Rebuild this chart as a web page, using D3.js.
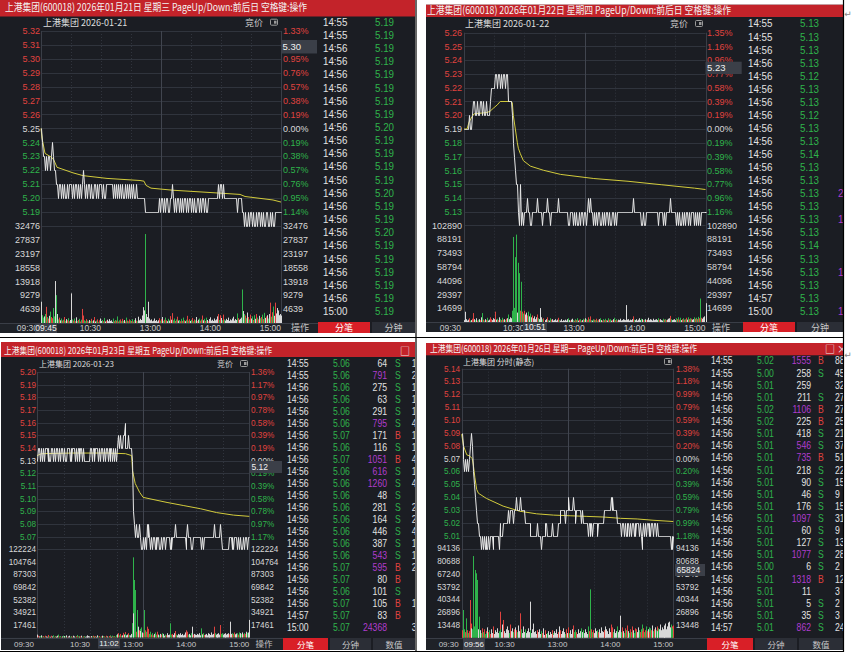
<!DOCTYPE html>
<html>
<head>
<meta charset="utf-8">
<script src="https://d3js.org/d3.v7.min.js"></script>
<style>
body{margin:0;background:#fff;}
svg{display:block;font-family:'Liberation Sans','Noto Sans CJK SC',sans-serif;}
.cjk{font-family:'Noto Sans CJK SC','Noto Sans',sans-serif;}
</style>
</head>
<body>
<div id="chart"></div>
<script>
// ---------- shared ----------
var timeLabels = ["09:30","10:30","13:00","14:00","15:00"];
var timeMinutes = [0,60,120,180,240];

// ---------- 2026-01-21 ----------
var p1Title = "上港集团(600018) 2026年01月21日 星期三 PageUp/Down:前后日 空格键:操作";
var p1Header = "上港集团  2026-01-21";
var p1PrevClose = 5.25;
var p1Range = [5.18, 5.32];
var p1PriceTicks = ["5.32","5.31","5.30","5.29","5.28","5.27","5.26","5.25","5.24","5.23","5.22","5.21","5.20","5.19"];
var p1PctTicks = ["1.33%","1.14%","0.95%","0.76%","0.57%","0.38%","0.19%","0.00%","0.19%","0.38%","0.57%","0.76%","0.95%","1.14%"];
var p1VolMax = 32476;
var p1VolTicks = ["32476","27837","23197","18558","13918","9279","4639"];
var p1Price = [
5.25,5.24,5.23,5.23,5.22,5.23,5.22,5.23,5.23,5.22,
5.23,5.24,5.23,5.22,5.22,5.21,5.21,5.20,5.21,5.21,
5.20,5.21,5.20,5.21,5.20,5.20,5.21,5.20,5.21,5.21,
5.21,5.20,5.21,5.20,5.21,5.21,5.20,5.21,5.20,5.21,
5.20,5.21,5.22,5.21,5.20,5.21,5.20,5.21,5.21,5.20,
5.21,5.20,5.20,5.21,5.21,5.20,5.21,5.20,5.21,5.21,
5.21,5.20,5.21,5.20,5.20,5.21,5.21,5.21,5.21,5.21,
5.21,5.21,5.20,5.21,5.20,5.21,5.20,5.21,5.20,5.21,
5.20,5.21,5.20,5.20,5.21,5.20,5.21,5.20,5.21,5.20,
5.21,5.20,5.21,5.20,5.20,5.21,5.20,5.20,5.20,5.20,
5.20,5.20,5.20,5.20,5.19,5.19,5.19,5.19,5.19,5.19,
5.19,5.19,5.19,5.19,5.19,5.19,5.19,5.19,5.20,5.19,
5.20,5.20,5.19,5.20,5.19,5.20,5.20,5.19,5.19,5.20,
5.20,5.21,5.20,5.19,5.20,5.19,5.20,5.20,5.19,5.20,
5.19,5.20,5.19,5.20,5.20,5.19,5.20,5.19,5.20,5.20,
5.19,5.20,5.19,5.20,5.19,5.19,5.20,5.20,5.19,5.20,
5.19,5.20,5.20,5.19,5.20,5.19,5.19,5.20,5.20,5.20,
5.20,5.20,5.20,5.20,5.20,5.20,5.20,5.21,5.20,5.21,
5.21,5.20,5.21,5.20,5.20,5.20,5.20,5.20,5.20,5.20,
5.20,5.20,5.20,5.20,5.20,5.20,5.19,5.20,5.20,5.20,
5.20,5.19,5.19,5.18,5.19,5.18,5.18,5.19,5.18,5.19,
5.19,5.18,5.19,5.18,5.18,5.19,5.18,5.19,5.19,5.18,
5.19,5.18,5.19,5.18,5.18,5.19,5.19,5.18,5.18,5.19,
5.18,5.19,5.18,5.18,5.19,5.19,5.19,5.19,5.19,5.19,
5.19];
var p1Avg = [[0,5.25],[1,5.243],[4,5.232],[11,5.229],[13,5.227],[16,5.222],[32,5.218],[42,5.216],[66,5.214],[99,5.2125],[103,5.212],[105,5.209],[110,5.207],[132,5.2055],[166,5.204],[199,5.2025],[204,5.201],[232,5.1985],[240,5.197]];
var p1Vol = [
7100,2600,1800,2200,3000,5400,2000,1500,2400,3800,
2000,1600,5000,2200,14000,9300,3000,1200,1800,900,
1500,800,1100,2000,700,1300,900,1600,600,1000,
9900,1200,800,1500,600,1900,700,1000,1400,500,
1100,4700,2500,900,600,1300,800,500,1000,700,
1400,600,900,2000,500,800,1200,400,900,1500,
700,1000,600,1700,500,800,1100,600,1300,700,
900,400,1500,600,1000,800,2200,500,900,1200,
600,1400,700,1000,500,1800,800,600,1200,900,
700,1300,500,1000,1600,800,600,2100,900,1400,
1000,2500,5300,4200,29700,3000,2000,7100,1500,900,
1200,600,800,1500,700,1000,500,900,1600,800,
1300,2000,700,1100,1800,900,600,1400,800,2300,
1100,3300,900,1500,700,1200,2100,800,1000,600,
1400,700,1800,900,600,1100,2400,800,1300,700,
1000,1700,600,1200,900,2000,700,1100,1500,800,
1200,2500,900,1400,700,1800,1000,600,1300,1900,
800,1100,700,1500,900,1200,2200,3000,1000,2600,
1700,900,2800,1200,800,1400,1000,1800,700,1200,
900,1500,2100,800,1300,1000,3200,1600,1100,1400,
1800,11200,4000,3000,2500,1600,3500,2000,1200,2800,
1500,2200,1000,2600,1400,3000,1800,1200,2400,1600,
2000,2800,1300,3400,1700,2200,2600,1500,3000,6800,
2100,3600,5500,2400,6800,3200,5000,4200,2600,3000,
2500];
var p1TblTime = ["14:55","14:55","14:56","14:56","14:56","14:56","14:56","14:56","14:56","14:56","14:56","14:56","14:56","14:56","14:56","14:56","14:56","14:56","14:56","14:56","14:56","14:56","15:00"];
var p1TblPrice = ["5.19","5.19","5.19","5.19","5.19","5.19","5.19","5.19","5.20","5.19","5.19","5.19","5.19","5.20","5.19","5.19","5.20","5.19","5.19","5.19","5.19","5.19","5.19"];

// ---------- 2026-01-22 ----------
var p2Title = "上港集团(600018) 2026年01月22日 星期四 PageUp/Down:前后日 空格键:操作";
var p2Header = "上港集团  2026-01-22";
var p2PrevClose = 5.19;
var p2Range = [5.12, 5.26];
var p2PriceTicks = ["5.26","5.25","5.24","5.23","5.22","5.21","5.20","5.19","5.18","5.17","5.16","5.15","5.14","5.13"];
var p2PctTicks = ["1.35%","1.16%","0.96%","0.77%","0.58%","0.39%","0.19%","0.00%","0.19%","0.39%","0.58%","0.77%","0.96%","1.16%"];
var p2VolMax = 102890;
var p2VolTicks = ["102890","88191","73493","58794","44096","29397","14699"];
var p2Price = [
5.19,5.19,5.19,5.19,5.19,5.20,5.19,5.19,5.20,5.21,
5.21,5.20,5.20,5.21,5.20,5.20,5.21,5.21,5.20,5.21,
5.20,5.20,5.21,5.20,5.20,5.20,5.21,5.22,5.22,5.22,
5.22,5.23,5.23,5.22,5.23,5.23,5.22,5.23,5.22,5.23,
5.23,5.22,5.23,5.23,5.21,5.21,5.21,5.21,5.20,5.18,
5.17,5.16,5.15,5.15,5.13,5.12,5.15,5.12,5.13,5.12,
5.13,5.13,5.13,5.14,5.13,5.13,5.12,5.12,5.13,5.13,
5.13,5.13,5.13,5.14,5.13,5.13,5.13,5.13,5.12,5.13,
5.13,5.13,5.14,5.13,5.13,5.12,5.13,5.13,5.13,5.13,
5.13,5.13,5.13,5.14,5.13,5.13,5.13,5.13,5.13,5.13,
5.13,5.13,5.13,5.12,5.12,5.13,5.13,5.13,5.12,5.13,
5.12,5.13,5.12,5.12,5.13,5.12,5.13,5.13,5.12,5.13,
5.13,5.12,5.13,5.14,5.13,5.14,5.13,5.13,5.12,5.13,
5.12,5.13,5.12,5.13,5.13,5.12,5.12,5.13,5.12,5.13,
5.12,5.13,5.13,5.12,5.13,5.12,5.12,5.13,5.13,5.12,
5.13,5.12,5.13,5.13,5.13,5.13,5.13,5.13,5.13,5.13,
5.13,5.13,5.13,5.13,5.13,5.13,5.13,5.13,5.14,5.13,
5.13,5.13,5.13,5.13,5.13,5.13,5.12,5.12,5.13,5.12,
5.12,5.13,5.13,5.13,5.13,5.13,5.13,5.13,5.13,5.13,
5.13,5.13,5.13,5.12,5.13,5.13,5.13,5.13,5.12,5.13,
5.12,5.13,5.13,5.13,5.13,5.14,5.13,5.13,5.13,5.13,
5.13,5.12,5.13,5.12,5.13,5.12,5.12,5.13,5.12,5.13,
5.12,5.13,5.13,5.12,5.13,5.12,5.13,5.13,5.13,5.12,
5.13,5.12,5.13,5.12,5.13,5.12,5.13,5.13,5.13,5.13,
5.13];
var p2Avg = [[0,5.19],[3,5.19],[5,5.195],[8,5.199],[10,5.201],[23,5.202],[26,5.203],[29,5.205],[33,5.2075],[36,5.21],[47,5.21],[48,5.209],[49,5.20],[51,5.19],[53,5.18],[54,5.176],[56,5.172],[59,5.167],[66,5.163],[79,5.16],[96,5.157],[129,5.154],[163,5.152],[196,5.1495],[229,5.147],[240,5.146]];
var p2Vol = [
2000,10900,3000,1500,2500,4000,1500,2000,3500,9500,
3000,2000,4000,1500,2500,3000,2000,5000,9500,2500,
1500,3000,2000,4500,1500,2500,5000,3000,2000,4000,
3000,11000,2500,3500,2000,5000,3000,2000,4500,2500,
3000,2000,3500,4000,8000,3000,5000,4000,12000,90500,
15000,69000,93000,10000,63000,52000,12000,42800,11000,9000,
12000,8000,10000,7000,11000,6000,9000,5000,7000,4000,
6000,3000,5000,8000,4000,3000,14800,5000,3000,4000,
2000,3000,5000,2000,1500,4000,2500,3000,1500,2000,
3000,1500,2500,4500,2000,1500,3000,1000,2000,1500,
2500,1500,3000,4000,2000,1500,2500,3500,2000,1500,
3000,2000,4000,1500,2500,3000,1500,2000,3500,2500,
4000,3000,2000,5000,3000,6000,2000,1500,3000,2500,
2000,3500,1500,2500,3000,4000,2000,1500,3000,2000,
3500,2000,1500,4000,2500,3000,1500,2000,3000,4500,
2000,3000,1500,2500,2000,3500,1500,2000,3000,2500,
2000,18000,2500,3000,1500,2500,2000,3000,6000,2500,
2000,3000,1500,2500,4000,2000,3500,3000,2000,2500,
3000,2000,2500,4500,2000,3000,2500,1500,3500,2000,
2500,3000,2000,4000,2500,3000,2000,1500,3500,2500,
3000,2000,2500,3500,4000,6500,3000,2000,2500,3000,
2000,4000,3000,5000,2500,4500,2000,3000,4000,2500,
3000,4500,2500,5000,3000,4000,3500,2500,3000,5000,
3500,4500,3000,5500,4000,25000,4500,3500,5000,6000,
20000];
var p2TblTime = ["14:55","14:55","14:56","14:56","14:56","14:56","14:56","14:56","14:56","14:56","14:56","14:56","14:56","14:56","14:56","14:56","14:56","14:56","14:56","14:56","14:56","14:57","15:00"];
var p2TblPrice = ["5.13","5.13","5.13","5.13","5.12","5.13","5.13","5.12","5.13","5.13","5.14","5.13","5.13","5.13","5.13","5.13","5.13","5.14","5.13","5.13","5.13","5.13","5.13"];
var p2TblCut = ["","","","","","","","","","","","","","2","","1","","","","1","","","18"];

// ---------- 2026-01-23 ----------
var p3Title = "上港集团(600018) 2026年01月23日 星期五 PageUp/Down:前后日 空格键:操作";
var p3Header = "上港集团  2026-01-23";
var p3PrevClose = 5.13;
var p3Range = [5.06, 5.20];
var p3PriceTicks = ["5.20","5.19","5.18","5.17","5.16","5.15","5.14","5.13","5.12","5.11","5.10","5.09","5.08","5.07"];
var p3PctTicks = ["1.36%","1.17%","0.97%","0.78%","0.58%","0.39%","0.19%","0.00%","0.19%","0.39%","0.58%","0.78%","0.97%","1.17%"];
var p3VolMax = 122224;
var p3VolTicks = ["122224","104764","87303","69842","52382","34921","17461"];
var p3Price = [
5.13,5.14,5.14,5.13,5.14,5.14,5.13,5.14,5.13,5.14,
5.14,5.14,5.13,5.14,5.13,5.13,5.14,5.14,5.13,5.14,
5.13,5.14,5.14,5.14,5.13,5.14,5.13,5.14,5.14,5.13,
5.14,5.14,5.13,5.13,5.14,5.14,5.14,5.13,5.14,5.13,
5.14,5.14,5.14,5.13,5.14,5.13,5.14,5.14,5.13,5.14,
5.14,5.13,5.14,5.13,5.13,5.13,5.13,5.13,5.13,5.13,
5.14,5.14,5.13,5.14,5.14,5.13,5.14,5.14,5.14,5.13,
5.14,5.13,5.14,5.14,5.14,5.13,5.14,5.13,5.14,5.14,
5.13,5.14,5.13,5.14,5.14,5.13,5.14,5.13,5.14,5.13,
5.14,5.14,5.15,5.14,5.15,5.14,5.14,5.15,5.15,5.16,
5.14,5.14,5.14,5.15,5.14,5.14,5.14,5.13,5.09,5.09,
5.08,5.07,5.08,5.07,5.07,5.08,5.07,5.07,5.06,5.06,
5.07,5.06,5.07,5.06,5.08,5.07,5.08,5.07,5.06,5.07,
5.06,5.07,5.07,5.06,5.07,5.06,5.07,5.07,5.06,5.06,
5.07,5.06,5.07,5.07,5.07,5.06,5.07,5.07,5.07,5.07,
5.06,5.07,5.06,5.07,5.07,5.07,5.08,5.07,5.07,5.07,
5.07,5.07,5.07,5.07,5.07,5.07,5.07,5.07,5.06,5.07,
5.08,5.07,5.07,5.07,5.06,5.06,5.07,5.07,5.07,5.07,
5.07,5.07,5.07,5.07,5.07,5.06,5.07,5.07,5.06,5.07,
5.07,5.07,5.07,5.07,5.07,5.07,5.07,5.07,5.07,5.07,
5.08,5.07,5.07,5.07,5.07,5.07,5.07,5.08,5.07,5.06,
5.06,5.06,5.06,5.06,5.06,5.06,5.06,5.07,5.07,5.07,
5.06,5.07,5.06,5.07,5.07,5.07,5.06,5.07,5.06,5.07,
5.07,5.06,5.06,5.07,5.06,5.07,5.07,5.06,5.07,5.07,
5.07];
var p3Avg = [[0,5.134],[5,5.1355],[40,5.136],[80,5.136],[100,5.1355],[107,5.134],[108,5.122],[111,5.112],[116,5.105],[120,5.101],[147,5.097],[166,5.0945],[185,5.092],[203,5.089],[222,5.087],[240,5.086]];
var p3Vol = [
4000,2500,1500,2000,1000,3000,1500,2000,1000,2500,
1500,1000,2000,3500,1500,1000,2500,1500,3000,1000,
2000,1500,1000,2500,4000,1500,2000,1000,1500,2500,
1000,2000,1500,3000,1000,1500,2500,1000,2000,1500,
1000,2500,1500,1000,2000,3500,1500,1000,2000,1500,
2500,1000,1500,2000,1000,1500,3000,1000,2000,1500,
1000,2000,1500,2500,1000,1500,2000,1000,3000,1500,
2000,1000,1500,2500,1000,2000,1500,1000,2500,1500,
1000,2000,3000,1500,1000,2500,1500,2000,1000,3500,
2000,4500,6000,3000,5000,2500,3000,6500,4000,7500,
5000,3000,4000,6000,3500,3000,5000,20000,111100,33500,
79700,65800,8000,38100,15000,10000,12000,9000,14000,7000,
6000,38100,10000,8000,15000,6000,12000,5000,8000,4000,
6000,3000,5000,7000,4000,3000,8000,4000,3000,5000,
4000,6000,3000,5000,2500,4000,3000,6000,3500,4000,
19700,4000,3000,5000,3500,6000,9000,4000,3000,5000,
3000,4000,6000,3500,5000,3000,4000,7000,5000,10000,
8000,4000,5000,3000,6000,15000,4000,3000,5000,4000,
3500,5000,4000,6000,3000,12700,5000,4000,6000,3500,
4000,5000,3000,6000,4000,5000,3500,7000,4000,5000,
15000,6000,4000,5000,3500,6000,4000,17300,5000,6000,
4000,5000,3500,6000,4000,5000,6000,4500,21900,5000,
6000,4000,5000,7000,4500,5500,6000,4000,7000,5000,
6000,5000,7000,4500,6000,5000,8000,6500,5000,7000,
24368];
var p3TblTime = ["14:55","14:55","14:56","14:56","14:56","14:56","14:56","14:56","14:56","14:56","14:56","14:56","14:56","14:56","14:56","14:56","14:56","14:56","14:56","14:56","14:56","14:57","15:00"];
var p3TblPrice = ["5.06","5.06","5.06","5.06","5.06","5.06","5.07","5.06","5.07","5.06","5.06","5.06","5.06","5.06","5.06","5.06","5.06","5.07","5.07","5.06","5.07","5.07","5.07"];
var p3TblVol = [64,791,275,63,291,795,171,116,1051,616,1260,48,281,164,446,387,543,595,80,101,105,83,24368];
var p3TblSide = ["S","S","S","S","S","S","B","S","B","S","S","S","S","S","S","S","S","B","B","S","B","B",""];
var p3TblCut = ["1","2","1","1","1","4","1","1","4","1","4","","2","2","4","1","1","2","","","1","","39"];

// ---------- 2026-01-26 ----------
var p4Title = "上港集团(600018) 2026年01月26日 星期一 PageUp/Down:前后日 空格键:操作";
var p4Header = "上港集团  分时(静态)";
var p4PrevClose = 5.07;
var p4Range = [5.00, 5.14];
var p4PriceTicks = ["5.14","5.13","5.12","5.11","5.10","5.09","5.08","5.07","5.06","5.05","5.04","5.03","5.02","5.01"];
var p4PctTicks = ["1.38%","1.18%","0.99%","0.79%","0.59%","0.39%","0.20%","0.00%","0.20%","0.39%","0.59%","0.79%","0.99%","1.18%"];
var p4VolMax = 94136;
var p4VolTicks = ["94136","80688","67240","53792","40344","26896","13448"];
var p4Price = [
5.09,5.08,5.07,5.06,5.07,5.06,5.07,5.06,5.07,5.08,
5.09,5.09,5.08,5.06,5.05,5.04,5.03,5.02,5.02,5.02,
5.01,5.01,5.00,5.01,5.00,5.01,5.00,5.01,5.00,5.00,
5.01,5.00,5.01,5.01,5.01,5.00,5.01,5.01,5.01,5.01,
5.01,5.01,5.00,5.02,5.01,5.01,5.01,5.02,5.02,5.02,
5.02,5.02,5.03,5.03,5.02,5.03,5.03,5.03,5.02,5.03,
5.03,5.03,5.04,5.03,5.03,5.03,5.04,5.03,5.03,5.03,
5.03,5.03,5.02,5.02,5.02,5.02,5.02,5.02,5.01,5.01,
5.01,5.01,5.01,5.01,5.01,5.02,5.01,5.01,5.01,5.01,
5.00,5.01,5.01,5.01,5.01,5.02,5.02,5.01,5.01,5.01,
5.01,5.01,5.02,5.01,5.01,5.01,5.01,5.01,5.01,5.02,
5.02,5.02,5.03,5.03,5.03,5.03,5.03,5.02,5.03,5.03,
5.03,5.04,5.03,5.03,5.03,5.03,5.04,5.03,5.03,5.02,
5.03,5.03,5.03,5.03,5.03,5.02,5.03,5.03,5.02,5.02,
5.02,5.02,5.02,5.01,5.02,5.02,5.01,5.02,5.01,5.02,
5.02,5.02,5.02,5.02,5.01,5.02,5.02,5.02,5.02,5.02,
5.02,5.03,5.03,5.03,5.03,5.03,5.03,5.03,5.03,5.04,
5.03,5.04,5.03,5.03,5.03,5.03,5.02,5.02,5.02,5.02,
5.02,5.01,5.02,5.02,5.01,5.02,5.01,5.01,5.02,5.02,
5.01,5.02,5.01,5.02,5.02,5.01,5.02,5.01,5.02,5.02,
5.02,5.01,5.02,5.01,5.00,5.01,5.02,5.01,5.02,5.01,
5.02,5.02,5.01,5.02,5.01,5.02,5.02,5.01,5.02,5.02,
5.01,5.02,5.02,5.01,5.01,5.01,5.01,5.01,5.01,5.01,
5.01,5.01,5.01,5.01,5.01,5.01,5.01,5.00,5.01,5.00,
5.01];
var p4Avg = [[0,5.089],[2,5.08],[5.7,5.073],[9,5.072],[12,5.07],[13.2,5.065],[15,5.055],[17,5.046],[19,5.043],[28,5.039],[47,5.033],[66,5.029],[85,5.027],[104,5.026],[123,5.0255],[142,5.025],[161,5.0245],[180,5.0235],[199,5.023],[217,5.022],[240,5.021]];
var p4Vol = [
8000,12000,29300,9000,6000,20500,8000,5000,7000,39800,
15000,10000,9000,86200,12000,71500,68000,61000,9000,7000,
22300,8000,5000,10000,6000,9000,4000,7000,5000,11000,
6000,8000,4000,9000,5000,7000,12000,4000,8000,6000,
10000,5000,7000,27500,9000,6000,14000,18800,7000,5000,
9000,12000,6000,8000,5000,14000,7000,10000,6000,9000,
5000,11000,8000,6000,13000,7000,25800,9000,5000,8000,
12000,6000,9000,5000,7000,10000,6000,38100,8000,5000,
9000,15000,6000,7000,4000,8000,5000,6000,9000,4000,
7000,5000,10000,3000,6000,8000,4000,5000,7000,3000,
6000,4000,8000,5000,3000,7000,5000,9000,4000,6000,
12000,5000,8000,4000,7000,10000,6000,4000,9000,5000,
7000,11000,5000,8000,4000,9000,13000,6000,5000,8000,
6000,4000,9000,5000,7000,10000,4000,6000,8000,5000,
9000,6000,4000,12000,7000,5000,51100,9000,6000,8000,
5000,10000,7000,4000,8000,6000,9000,5000,11000,7000,
6000,8000,12000,5000,9000,7000,4000,10000,6000,14000,
8000,11000,6000,9000,5000,7000,12000,6000,8000,23300,
9000,6000,11000,7000,5000,10000,8000,6000,13000,7000,
5000,9000,6000,12000,8000,5000,10000,7000,9000,6000,
11000,8000,6000,9000,14000,7000,10000,6000,8000,12000,
7000,9000,11000,6000,10000,8000,13000,7000,9000,11000,
8000,12000,7000,10000,9000,14000,8000,11000,9000,13000,
10000,15000,9000,12000,16000,17000,11000,14000,12000,10000,
13000];
var p4TblTime = ["14:55","14:55","14:56","14:56","14:56","14:56","14:56","14:56","14:56","14:56","14:56","14:56","14:56","14:56","14:56","14:56","14:56","14:56","14:56","14:56","14:56","14:56","14:57"];
var p4TblPrice = ["5.02","5.00","5.01","5.01","5.02","5.02","5.01","5.01","5.01","5.01","5.01","5.01","5.01","5.01","5.01","5.01","5.01","5.00","5.01","5.01","5.01","5.01","5.01"];
var p4TblVol = [1555,258,259,211,1106,225,418,546,735,218,90,46,176,1097,60,127,1077,6,1318,11,5,35,862];
var p4TblSide = ["B","S","","S","B","B","S","S","B","S","S","S","S","S","S","S","S","S","B","","S","S","S"];
var p4TblCut = ["88","45","32","27","27","25","21","37","51","22","15","9","15","31","9","13","28","2","126","3","2","3","24"];

// ---------- drawing ----------
var C = {bg:"#1b1d23", grid:"#30343d", red:"#e0433f", green:"#2fb34b", white:"#d8d8d8",
  title:"#c3232a", line:"#e8e8e8", avg:"#d2cb3c", purple:"#b03ccd", box:"#3b3f48",
  strip:"#1f2228", tab:"#2b2e36", tabRed:"#d91f27"};

var svg = d3.select("#chart").append("svg").attr("width", 852).attr("height", 654);
var defs = svg.append("defs");

function label(g, x, y, s, o) {
  o = o || {};
  var t = g.append("text")
    .attr("transform", "translate(" + x + "," + y + ")" + (o.sx ? " scale(" + o.sx + ",1)" : ""))
    .attr("dy", "0.36em")
    .attr("font-size", o.fs || 9)
    .attr("fill", o.fill || C.white)
    .attr("text-anchor", o.anchor || "start")
    .text(s);
  if (o.cjk) t.attr("class", "cjk");
  if (o.len) t.attr("textLength", o.len).attr("lengthAdjust", "spacingAndGlyphs");
  return t;
}

function signColor(v, ref) {
  if (Math.abs(v - ref) < 1e-6) return C.white;
  return v > ref ? C.red : C.green;
}

function drawPanel(p, L, idx) {
  var clipId = "clip" + idx;
  defs.append("clipPath").attr("id", clipId).append("rect")
    .attr("x", L.x0).attr("y", L.y0).attr("width", L.x1 - L.x0).attr("height", L.y1 - L.y0);
  var g = svg.append("g").attr("clip-path", "url(#" + clipId + ")");

  g.append("rect").attr("x", L.x0).attr("y", L.y0)
    .attr("width", L.x1 - L.x0).attr("height", L.y1 - L.y0).attr("fill", C.bg);

  // title bar
  g.append("rect").attr("x", L.x0).attr("y", L.y0)
    .attr("width", L.x1 - L.x0).attr("height", L.titleY1 - L.y0).attr("fill", C.title);
  label(g, L.titleX, L.titleTextY, p.title, {fs: L.titleFs, fill: "#f3f3f3", len: L.titleLen, cjk: 1});
  (L.winIcons || []).forEach(function(w) {
    label(g, w.x, L.titleTextY, w.t, {fs: 10, fill: "#eeeeee", anchor: "middle", cjk: 1});
  });

  // header row
  label(g, L.headX, L.headY, p.header, {fs: L.headFs, fill: "#dddddd", cjk: 1});
  if (L.jjX) label(g, L.jjX, L.headY, "竞价", {fs: L.headFs, fill: "#cccccc", cjk: 1});
  g.append("rect").attr("x", L.iconX + 0.5).attr("y", L.headY - 3.5)
    .attr("width", 7).attr("height", 6).attr("rx", 1)
    .attr("fill", "none").attr("stroke", "#9a9a9a");
  g.append("rect").attr("x", L.iconX + 4).attr("y", L.headY - 2)
    .attr("width", 2.5).attr("height", 3).attr("fill", "#9a9a9a");

  var x = d3.scaleLinear().domain([0, 240]).range([L.plotL, L.plotR]);
  var y = d3.scaleLinear().domain(p.range).range([L.pBot, L.pTop]);
  var yv = d3.scaleLinear().domain([0, p.volMax]).range([L.vBot, L.pBot]);
  var px = function(v) { return Math.round(v) + 0.5; };

  // time strip
  g.append("rect").attr("x", L.x0).attr("y", L.vBot)
    .attr("width", L.stripX1 - L.x0).attr("height", L.y1 - L.vBot).attr("fill", C.strip);
  g.append("line").attr("x1", L.x0).attr("x2", L.stripX1)
    .attr("y1", px(L.vBot)).attr("y2", px(L.vBot)).attr("stroke", "#3a3e47");

  // grid
  var hVals = p.priceTicks.map(Number).concat([p.range[0]]);
  g.selectAll(null).data(hVals).join("line")
    .attr("x1", L.plotL).attr("x2", L.plotR)
    .attr("y1", function(d) { return px(y(d)); }).attr("y2", function(d) { return px(y(d)); })
    .attr("stroke", C.grid);
  g.selectAll(null).data([30, 60, 90, 120, 150, 180, 210]).join("line")
    .attr("x1", function(d) { return px(x(d)); }).attr("x2", function(d) { return px(x(d)); })
    .attr("y1", L.pTop).attr("y2", L.vBot)
    .attr("stroke", function(d) { return d === 120 ? "#41454f" : C.grid; })
    .attr("stroke-dasharray", function(d) { return d === 120 ? null : "1,2"; });
  g.selectAll(null).data([0, 240]).join("line")
    .attr("x1", function(d) { return px(x(d)); }).attr("x2", function(d) { return px(x(d)); })
    .attr("y1", L.pTop).attr("y2", L.vBot).attr("stroke", "#3a3e47");

  // volume bars
  g.selectAll(null).data(p.vol).join("rect")
    .attr("x", function(d, i) { return Math.round(x(i)); })
    .attr("width", 1)
    .attr("y", function(d) { return yv(d); })
    .attr("height", function(d) { return L.vBot - yv(d); })
    .attr("fill", function(d, i) {
      var prev = i === 0 ? p.prevClose : p.price[i - 1];
      return signColor(p.price[i], prev);
    });

  // average and price lines
  g.append("path").datum(p.avg)
    .attr("d", d3.line().x(function(d) { return x(d[0]); }).y(function(d) { return y(d[1]); }))
    .attr("fill", "none").attr("stroke", C.avg).attr("stroke-width", 1);
  g.append("path").datum(p.price)
    .attr("d", d3.line().x(function(d, i) { return px(x(i)); }).y(function(d) { return px(y(d)); }))
    .attr("fill", "none").attr("stroke", C.line).attr("stroke-width", 1);

  // axis labels
  p.priceTicks.forEach(function(t, i) {
    var c = signColor(+t, p.prevClose);
    label(g, L.leftX, y(+t), t, {fs: L.lblFs, fill: c, anchor: "end"});
    label(g, L.rightX, y(+t), p.pctTicks[i], {fs: L.lblFs, fill: c});
  });
  p.volTicks.forEach(function(t) {
    label(g, L.leftX, yv(+t), t, {fs: L.lblFs, fill: C.white, anchor: "end"});
    label(g, L.rightX, yv(+t), t, {fs: L.lblFs, fill: C.white});
  });
  timeLabels.forEach(function(t, i) {
    var m = timeMinutes[i];
    var xx = m === 0 ? L.plotL - 3 : x(m);
    label(g, xx, L.timeY, t, {fs: L.timeFs, fill: "#c8c8c8", anchor: "end"});
  });
  if (L.opX) label(g, L.opX, L.timeY, "操作", {fs: L.timeFs + 0.5, fill: "#c0c0c0", anchor: "middle", cjk: 1});

  // tabs
  L.tabs.forEach(function(tb) {
    g.append("rect").attr("x", tb.x0).attr("y", L.tabY0)
      .attr("width", tb.x1 - tb.x0).attr("height", L.y1 - L.tabY0)
      .attr("fill", tb.on ? C.tabRed : C.tab);
    label(g, (tb.x0 + tb.x1) / 2, (L.tabY0 + L.y1) / 2 + 0.5, tb.t,
      {fs: L.timeFs + 0.5, fill: tb.on ? "#ffffff" : "#c8c8c8", anchor: "middle", cjk: 1});
  });

  // tick table
  var T = L.tbl;
  p.tblTime.forEach(function(t, i) {
    var yy = T.y + T.dy * i;
    label(g, T.time, yy, t, {fs: T.fs, sx: T.sx, fill: "#e2e2e2"});
    label(g, T.price, yy, p.tblPrice[i], {fs: T.fs, sx: T.sx, fill: signColor(+p.tblPrice[i], p.prevClose)});
    if (p.tblVol) {
      var v = p.tblVol[i];
      label(g, T.vol, yy, String(v), {fs: T.fs, sx: T.sx, anchor: "end", fill: v >= 500 ? C.purple : "#e2e2e2"});
      if (p.tblSide[i]) label(g, T.side, yy, p.tblSide[i], {fs: T.fs, sx: T.sx, fill: p.tblSide[i] === "B" ? C.red : C.green});
      if (p.tblCut[i]) label(g, T.cut, yy, p.tblCut[i], {fs: T.fs, sx: T.sx, fill: "#e2e2e2"});
    }
    if (p.tblFrag && p.tblFrag[i]) label(g, T.frag, yy, p.tblFrag[i], {fs: T.fs, sx: T.sx, fill: C.purple});
  });

  // crosshair value boxes
  L.boxes.forEach(function(b) {
    g.append("rect").attr("x", b.x0).attr("y", b.y0)
      .attr("width", b.x1 - b.x0).attr("height", b.y1 - b.y0).attr("fill", C.box);
    label(g, b.anchor === "middle" ? (b.x0 + b.x1) / 2 : b.x0 + 1.5, (b.y0 + b.y1) / 2, b.t,
      {fs: b.fs, fill: "#f0f0f0", anchor: b.anchor || "start"});
  });
}

var panels = [
  [{title: p1Title, header: p1Header, prevClose: p1PrevClose, range: p1Range, priceTicks: p1PriceTicks,
    pctTicks: p1PctTicks, volMax: p1VolMax, volTicks: p1VolTicks, price: p1Price, avg: p1Avg, vol: p1Vol,
    tblTime: p1TblTime, tblPrice: p1TblPrice},
   {x0: 0, x1: 415, y0: 0, y1: 333, titleY1: 16.5, titleTextY: 7, titleX: 5, titleLen: 302, titleFs: 10.5,
    headY: 22.7, headX: 43, headFs: 9, jjX: 245, iconX: 270,
    plotL: 41, plotR: 281, pTop: 31, pBot: 225.7, vBot: 323,
    lblFs: 9, leftX: 40, rightX: 283, timeFs: 8.5, timeY: 328, stripX1: 318, opX: 300, tabY0: 322,
    tbl: {y: 21.7, dy: 13.15, time: 323, price: 375, fs: 11.5, sx: 0.85},
    tabs: [{x0: 318, x1: 370, t: "分笔", on: 1}, {x0: 372, x1: 415, t: "分钟"}],
    boxes: [{x0: 281, x1: 317, y0: 40, y1: 53.5, t: "5.30", fs: 9.5},
            {x0: 35, x1: 57, y0: 323, y1: 333, t: "09:45", fs: 8.5, anchor: "middle"}]}],
  [{title: p2Title, header: p2Header, prevClose: p2PrevClose, range: p2Range, priceTicks: p2PriceTicks,
    pctTicks: p2PctTicks, volMax: p2VolMax, volTicks: p2VolTicks, price: p2Price, avg: p2Avg, vol: p2Vol,
    tblTime: p2TblTime, tblPrice: p2TblPrice, tblFrag: p2TblCut},
   {x0: 426, x1: 843, y0: 4.5, y1: 332, titleY1: 17, titleTextY: 10.7, titleX: 427, titleLen: 304, titleFs: 10.5,
    headY: 24, headX: 465, headFs: 9, jjX: 670, iconX: 695,
    plotL: 464, plotR: 705.5, pTop: 32.7, pBot: 225.3, vBot: 322,
    lblFs: 9, leftX: 462, rightX: 707, timeFs: 8.5, timeY: 327.5, stripX1: 743, opX: 721, tabY0: 322,
    tbl: {y: 23.3, dy: 13.06, time: 748, price: 800, frag: 838, fs: 11.5, sx: 0.85},
    tabs: [{x0: 743, x1: 795, t: "分笔", on: 1}, {x0: 797, x1: 843, t: "分钟"}],
    boxes: [{x0: 705.5, x1: 741.7, y0: 61.7, y1: 74, t: "5.23", fs: 9.5},
            {x0: 523, x1: 547, y0: 322, y1: 332, t: "10:51", fs: 8.5, anchor: "middle"}]}],
  [{title: p3Title, header: p3Header, prevClose: p3PrevClose, range: p3Range, priceTicks: p3PriceTicks,
    pctTicks: p3PctTicks, volMax: p3VolMax, volTicks: p3VolTicks, price: p3Price, avg: p3Avg, vol: p3Vol,
    tblTime: p3TblTime, tblPrice: p3TblPrice, tblVol: p3TblVol, tblSide: p3TblSide, tblCut: p3TblCut},
   {x0: 1, x1: 415, y0: 342, y1: 650, titleY1: 357, titleTextY: 351, titleX: 4, titleLen: 268, titleFs: 9.5,
    headY: 364, headX: 39, headFs: 8, jjX: 217, iconX: 240,
    plotL: 37, plotR: 249.3, pTop: 372, pBot: 549.3, vBot: 637.5,
    lblFs: 8.2, leftX: 36, rightX: 251, timeFs: 8, timeY: 643.8, stripX1: 283, opX: 264, tabY0: 638,
    tbl: {y: 363, dy: 11.99, time: 287, price: 333, vol: 387, side: 395, cut: 411.7, fs: 10.3, sx: 0.84},
    tabs: [{x0: 283, x1: 328, t: "分笔", on: 1}, {x0: 330, x1: 371, t: "分钟"}, {x0: 373, x1: 415, t: "数值"}],
    boxes: [{x0: 250, x1: 282, y0: 461, y1: 473, t: "5.12", fs: 8.5},
            {x0: 98, x1: 120, y0: 638, y1: 648.5, t: "11:02", fs: 8, anchor: "middle"}],
    winIcons: [{x: 405, t: "□"}]}],
  [{title: p4Title, header: p4Header, prevClose: p4PrevClose, range: p4Range, priceTicks: p4PriceTicks,
    pctTicks: p4PctTicks, volMax: p4VolMax, volTicks: p4VolTicks, price: p4Price, avg: p4Avg, vol: p4Vol,
    tblTime: p4TblTime, tblPrice: p4TblPrice, tblVol: p4TblVol, tblSide: p4TblSide, tblCut: p4TblCut},
   {x0: 426, x1: 843, y0: 343, y1: 650, titleY1: 355.3, titleTextY: 349, titleX: 430, titleLen: 267, titleFs: 9.5,
    headY: 362, headX: 463, headFs: 8, jjX: null, iconX: 664,
    plotL: 461.7, plotR: 673.3, pTop: 368.7, pBot: 548.5, vBot: 637.8,
    lblFs: 8.2, leftX: 460, rightX: 676, timeFs: 8, timeY: 643.8, stripX1: 707, opX: null, tabY0: 638,
    tbl: {y: 360.7, dy: 12.12, time: 711, price: 757, vol: 811, side: 818, cut: 835, fs: 10.3, sx: 0.84},
    tabs: [{x0: 707, x1: 753, t: "分笔", on: 1}, {x0: 755, x1: 797, t: "分钟"}, {x0: 799, x1: 843, t: "数值"}],
    boxes: [{x0: 675, x1: 705, y0: 564, y1: 576, t: "65824", fs: 8.5},
            {x0: 463, x1: 485, y0: 638, y1: 650, t: "09:56", fs: 8, anchor: "middle"}],
    winIcons: [{x: 830, t: "□"}, {x: 842, t: "×"}]}]
];

panels.forEach(function(pl, i) { drawPanel(pl[0], pl[1], i); });

// document table borders and paragraph marks
var border = svg.append("g").attr("stroke", "#000").attr("stroke-width", 1.2);
border.append("line").attr("x1", 0).attr("x2", 844).attr("y1", 337.5).attr("y2", 337.5);
border.append("line").attr("x1", 0).attr("x2", 844).attr("y1", 651.5).attr("y2", 651.5);
border.append("line").attr("x1", 843.5).attr("x2", 843.5).attr("y1", 0).attr("y2", 652);
border.append("line").attr("x1", 416).attr("x2", 416).attr("y1", 0).attr("y2", 652);
label(svg, 848, 14, "↵", {fs: 9, fill: "#888", anchor: "middle"}).style("font-family", "DejaVu Sans");
label(svg, 848, 355, "↵", {fs: 9, fill: "#888", anchor: "middle"}).style("font-family", "DejaVu Sans");
</script>
</body>
</html>
